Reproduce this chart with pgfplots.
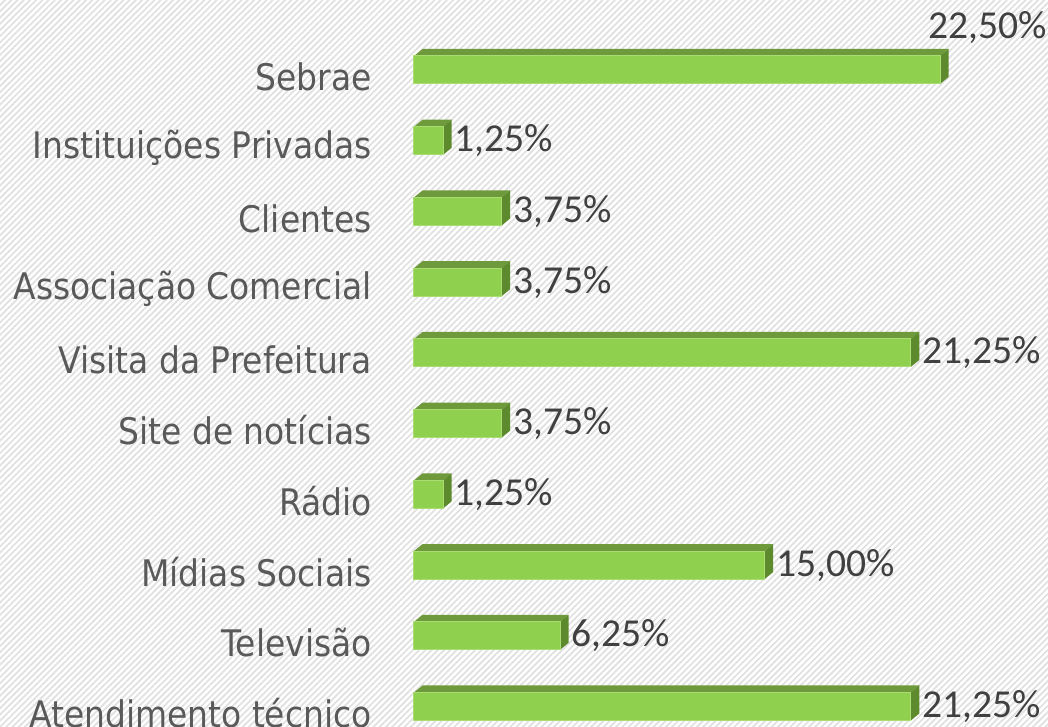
\documentclass[border=0pt]{standalone}
\usepackage{pgfplots}
\pgfplotsset{compat=1.18}
\usepackage{pgfplotstable}
\usepackage{fontspec}
\setmainfont{Carlito}
\newfontfamily\catfont{DejaVu Sans Condensed}
\usetikzlibrary{patterns.meta}
\definecolor{front}{HTML}{8FD14F}
\definecolor{topc}{HTML}{6E9A3C}
\definecolor{sidec}{HTML}{5E8A2E}
\definecolor{edge}{HTML}{A9DD74}
\definecolor{stripe}{HTML}{E0E0E0}
\definecolor{cattext}{HTML}{595959}
\definecolor{valtext}{HTML}{404040}

\pgfplotstableread{
y val
9 22.50
8 1.25
7 3.75
6 3.75
5 21.25
4 3.75
3 1.25
2 15.00
1 6.25
0 21.25
}\datatable

\begin{document}
\begin{tikzpicture}[x=1pt,y=1pt]
\fill[white] (-207,0) rectangle (317,363.5);
\fill[pattern={Lines[angle=45,distance=2.2pt,line width=0.85pt]}, pattern color=stripe] (-207,0) rectangle (317,363.5);
\begin{axis}[at={(0,0)}, anchor=south west, scale only axis,
  width=317pt, height=363.5pt,
  xmin=0, xmax=27.117, ymin=-0.29, ymax=9.99,
  axis line style={draw=none}, tick style={draw=none},
  major tick length=0pt,
  xtick=\empty,
  ytick={0,...,9},
  yticklabels={Atendimento técnico, Televisão, Mídias Sociais, Rádio, Site de notícias, Visita da Prefeitura, Associação Comercial, Clientes, Instituições Privadas, Sebrae},
  yticklabel style={font=\catfont\fontsize{18.3}{20}\selectfont, text=cattext, anchor=east, inner sep=0pt, xshift=-21pt, yshift=-3.5pt},
  clip=false,
]
\pgfplotsinvokeforeach{0,...,9}{
  \pgfplotstablegetelem{#1}{val}\of\datatable \let\vv\pgfplotsretval
  \pgfplotstablegetelem{#1}{y}\of\datatable \let\yy\pgfplotsretval
  \pgfmathsetmacro\ya{\yy+0.198}
  \pgfmathsetmacro\yb{\yy+0.198+0.099}
  \pgfmathsetmacro\yc{\yy-0.198}
  \pgfmathsetmacro\yd{\yy-0.198+0.099}
  \pgfmathsetmacro\xe{\vv+0.364}
  \edef\temp{\noexpand\addplot[fill=topc,draw=none,mark=none] coordinates {(0,\ya) (0.364,\yb) (\xe,\yb) (\vv,\ya)};
  \noexpand\addplot[fill=sidec,draw=none,mark=none] coordinates {(\vv,\yc) (\vv,\ya) (\xe,\yb) (\xe,\yd)};}
  \temp
}
\addplot[xbar, bar width=0.396, fill=front, draw=edge, line width=0.5pt,
  point meta=x,
  nodes near coords={\pgfmathprintnumber[fixed,fixed zerofill,precision=2,use comma,assume math mode=true]{\pgfplotspointmeta}\%},
  nodes near coords style={font=\fontsize{19.8}{22}\selectfont, text=valtext, anchor=west, inner sep=0pt, xshift=5.5pt},
  coordinate style/.condition={y>8.5}{xshift=-11.5pt, yshift=21pt},
] table[x=val,y=y]{\datatable};
\end{axis}
\pgfresetboundingbox
\path (-207,0) rectangle (317,363.5);
\end{tikzpicture}
\end{document}
